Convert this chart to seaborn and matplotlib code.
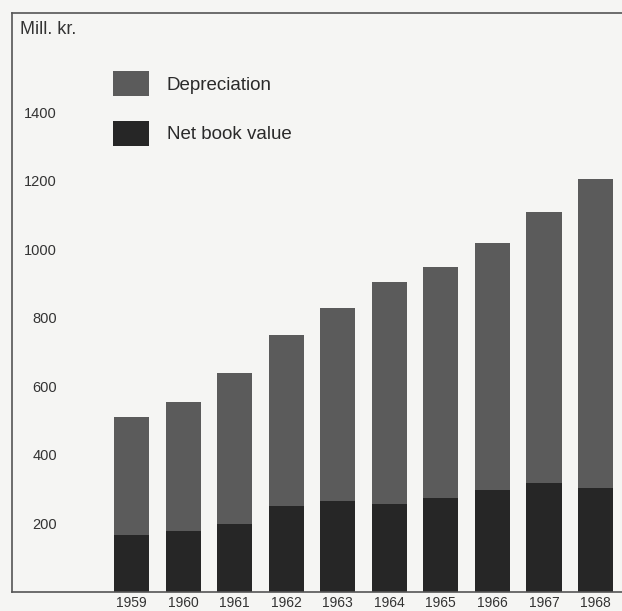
import matplotlib
matplotlib.use("Agg")
import matplotlib.pyplot as plt
from matplotlib.patches import Patch
import seaborn as sns
import pandas as pd

# Book values of fixed assets, million kroner
years = ["1959", "1960", "1961", "1962", "1963", "1964", "1965", "1966", "1967", "1968"]
net_book_value = [165, 178, 198, 250, 265, 257, 274, 297, 318, 304]
depreciation = [345, 377, 442, 500, 565, 648, 676, 723, 792, 901]
y_ticks = [200, 400, 600, 800, 1000, 1200, 1400]

dep_color = "#5b5b5b"
nbv_color = "#262626"
paper = "#f5f5f3"
ink = "#333333"

df = pd.DataFrame({
    "year": years,
    "nbv": net_book_value,
    "dep": depreciation,
})
df["total"] = df["nbv"] + df["dep"]

sns.set_theme(style="white")
plt.rcParams["font.family"] = ["Liberation Sans", "DejaVu Sans"]

W, H = 622, 611
fig = plt.figure(figsize=(W / 100, H / 100), dpi=100, facecolor=paper)
ax = fig.add_axes([12 / W, (H - 592) / H, (W - 12) / W, (592 - 13) / H])
ax.set_facecolor(paper)

# Stacked columns: full height in the depreciation tone, book value drawn over it
sns.barplot(data=df, x="year", y="total", color=dep_color, width=0.68,
            saturation=1, edgecolor="none", ax=ax, order=years)
sns.barplot(data=df, x="year", y="nbv", color=nbv_color, width=0.68,
            saturation=1, edgecolor="none", ax=ax, order=years)

ax.set_xlim(-2.318, 9.513)
ax.set_ylim(0, 1690)
ax.set_xlabel("")
ax.set_ylabel("")

ax.set_yticks(y_ticks)
ax.set_yticklabels([str(v) for v in y_ticks])
ax.tick_params(axis="y", length=0, pad=-32.4, labelsize=10.5, labelcolor=ink)
ax.tick_params(axis="x", length=0, pad=3, labelsize=10, labelcolor=ink)

for side in ("left", "top", "bottom"):
    ax.spines[side].set_visible(True)
    ax.spines[side].set_color("#555555")
    ax.spines[side].set_linewidth(1.2)
ax.spines["right"].set_visible(False)

ax.text(20 / W, 1 - 29 / H, "Mill. kr.", transform=fig.transFigure,
        fontsize=13, color=ink, va="center", ha="left")

handles = [Patch(facecolor=dep_color, edgecolor="none", label="Depreciation"),
           Patch(facecolor=nbv_color, edgecolor="none", label="Net book value")]
ax.legend(handles=handles, loc="upper left",
          bbox_to_anchor=(113 / W, 1 - 71 / H), bbox_transform=fig.transFigure,
          frameon=False, fontsize=13.5, handlelength=1.92, handleheight=1.667,
          handletextpad=0.96, labelspacing=1.33, borderpad=0, borderaxespad=0,
          labelcolor="#2a2a2a")

fig.savefig("out.png", dpi=100, facecolor=paper)
